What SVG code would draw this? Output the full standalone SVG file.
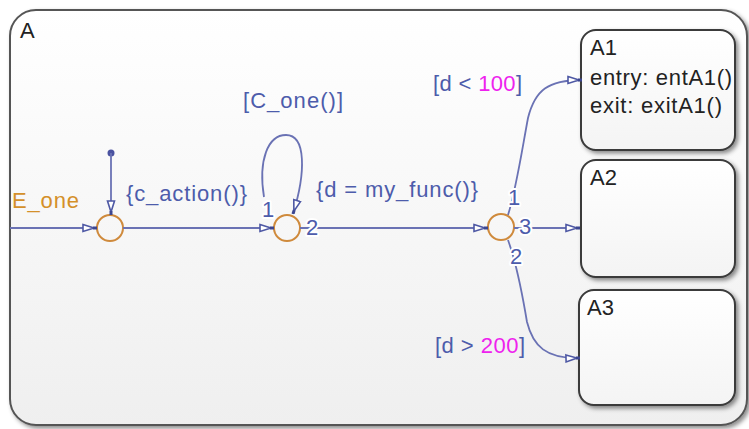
<svg xmlns="http://www.w3.org/2000/svg" width="749" height="429" viewBox="0 0 749 429">
<defs>
<linearGradient id="bgA" x1="0" y1="0" x2="0" y2="1"><stop offset="0" stop-color="#ffffff"/><stop offset="1" stop-color="#efefef"/></linearGradient>
<linearGradient id="bgS" x1="0" y1="0" x2="0" y2="1"><stop offset="0" stop-color="#ffffff"/><stop offset="1" stop-color="#f4f4f4"/></linearGradient>
<filter id="sh" x="-10%" y="-10%" width="125%" height="125%"><feDropShadow dx="2.5" dy="2.5" stdDeviation="2" flood-color="#000" flood-opacity="0.45"/></filter>
<marker id="arr" viewBox="0 0 15 10" refX="15" refY="5" markerWidth="15" markerHeight="10" markerUnits="userSpaceOnUse" orient="auto">
<path d="M1,1.5 L12,5 L1,8.5 Z" fill="#ffffff" stroke="#4e58a4" stroke-width="1.6"/><path d="M11,5 L15,5" stroke="#3c4690" stroke-width="3"/>
</marker>
</defs>
<style>
.state{stroke:#3a3a3a;stroke-width:2;fill:url(#bgS);filter:url(#sh)}
.sname{font-family:"Liberation Sans",Arial,sans-serif;font-size:22px;fill:#222}
.tr{fill:none;stroke:#6a72b4;stroke-width:1.8}
.lbl{font-family:"Liberation Sans",Arial,sans-serif;font-size:22px;fill:#4d5cab}
.num{fill:#ee22ee}
.halo{stroke:#ffffff;stroke-width:4;paint-order:stroke;stroke-linejoin:round}
.junc{fill:none;stroke:#cf8a3c;stroke-width:2}
</style>
<g id="A">
<rect x="10" y="10" width="737" height="415" rx="26" fill="url(#bgA)" stroke="#555" stroke-width="2" filter="url(#sh)"/>
<text class="sname" x="20" y="38">A</text>
</g>
<g id="A1">
<rect class="state" x="581" y="30" width="154" height="120" rx="15"/>
<text class="sname" x="590" y="55">A1</text>
<text class="sname" x="590" y="85" textLength="142">entry: entA1()</text>
<text class="sname" x="590" y="113" textLength="132">exit: exitA1()</text>
</g>
<g id="A2">
<rect class="state" x="581" y="160" width="154" height="117" rx="15"/>
<text class="sname" x="590" y="185">A2</text>
</g>
<g id="A3">
<rect class="state" x="579" y="290" width="156" height="115" rx="15"/>
<text class="sname" x="587" y="315">A3</text>
</g>
<g id="junctions">
<circle id="J1" class="junc" cx="110" cy="228" r="13"/>
<circle id="J2" class="junc" cx="287" cy="228" r="13"/>
<circle id="J3" class="junc" cx="501" cy="227" r="13"/>
</g>
<g id="connectors">
<circle cx="111" cy="153" r="3.5" fill="#4a52a0"/>
<path class="tr" d="M111,153 L111,215" marker-end="url(#arr)"/>
<path class="tr" d="M10,228 L97,228" marker-end="url(#arr)"/>
<path class="tr" d="M123,228 L274,228" marker-end="url(#arr)"/>
<path class="tr" d="M264,197 C258,160 268,135 286,135 C306,135 306,172 293,214" marker-end="url(#arr)"/>
<path class="tr" d="M300,228 L488,228" marker-end="url(#arr)"/>
<path class="tr" d="M514,228 L580,228" marker-end="url(#arr)"/>
<path class="tr" d="M508,215 C516,190 522,150 528,118 C535,90 548,80 582,80" marker-end="url(#arr)"/>
<path class="tr" d="M508,240 C516,262 522,292 527,322 C533,346 546,359 580,358" marker-end="url(#arr)"/>
</g>
<g id="labels">
<text class="lbl" x="12" y="208" style="fill:#d4902a" textLength="67">E_one</text>
<text class="lbl" x="126" y="201" textLength="121">{c_action()}</text>
<text class="lbl" x="243" y="108" textLength="100">[C_one()]</text>
<text class="lbl" x="316" y="197" textLength="162">{d = my_func()}</text>
<text class="lbl" x="433" y="91" textLength="89">[d &lt; <tspan class="num">100</tspan>]</text>
<text class="lbl" x="435" y="353" textLength="90">[d &gt; <tspan class="num">200</tspan>]</text>
<text class="lbl halo" x="262" y="217">1</text>
<text class="lbl halo" x="306" y="235">2</text>
<text class="lbl halo" x="508" y="205">1</text>
<text class="lbl halo" x="519" y="234">3</text>
<text class="lbl halo" x="510" y="264">2</text>
</g>
</svg>
